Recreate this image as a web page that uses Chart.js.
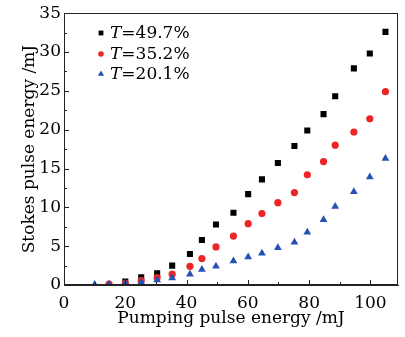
<!DOCTYPE html>
<html>
<head>
<meta charset="utf-8">
<script src="https://cdn.jsdelivr.net/npm/chart.js@4.4.1/dist/chart.umd.min.js"></script>
<style>
  html, body { margin: 0; padding: 0; background: #fff; }
  #wrap { width: 405px; height: 337px; }
</style>
</head>
<body>
<div id="wrap"><canvas id="myChart" width="405" height="337"></canvas></div>
<script>
// pumping pulse energy (mJ), shared by all three series
var pumpEnergy = [10, 14.7, 20, 25.2, 30.4, 35.3, 41.1, 45, 49.6, 55.3, 60.1, 64.6, 69.8, 75.2, 79.4, 84.7, 88.5, 94.6, 99.8, 104.9];
// stokes pulse energy (mJ) per transmittance
var stokesT497 = [null, null, 0.43, 0.99, 1.5, 2.5, 4.0, 5.8, 7.8, 9.3, 11.7, 13.6, 15.7, 17.9, 19.9, 22.0, 24.3, 27.9, 29.8, 32.6];
var stokesT352 = [null, 0.1, 0.2, 0.56, 0.95, 1.4, 2.4, 3.4, 4.9, 6.3, 7.9, 9.2, 10.6, 11.9, 14.2, 15.9, 18.0, 19.7, 21.4, 24.9];
var stokesT201 = [0.05, 0.1, 0.2, 0.35, 0.64, 0.9, 1.4, 2.0, 2.4, 3.1, 3.6, 4.1, 4.8, 5.5, 6.8, 8.4, 10.1, 12.0, 13.9, 16.3];
var seriesLabels = ["=49.7%", "=35.2%", "=20.1%"];
var xTicks = [0, 20, 40, 60, 80, 100];
var yTicks = [0, 5, 10, 15, 20, 25, 30, 35];

var FONT = "'DejaVu Serif', serif";

function toPoints(ys) {
    var pts = [];
    for (var i = 0; i < pumpEnergy.length; i++) {
        if (ys[i] !== null) pts.push({x: pumpEnergy[i], y: ys[i]});
    }
    return pts;
}

// inward ticks, frame and the legend with italic T
var decorPlugin = {
    id: 'decor',
    afterDatasetsDraw: function(chart) {
        var ctx = chart.ctx;
        var a = chart.chartArea;
        var xs = chart.scales.x, ys = chart.scales.y;
        ctx.save();
        ctx.strokeStyle = '#222';
        ctx.lineWidth = 1;
        ctx.strokeRect(Math.round(a.left) + 0.5, Math.round(a.top) + 0.5, Math.round(a.right - a.left) - 1, Math.round(a.bottom - a.top) - 1);
        ctx.beginPath();
        for (var v = 0; v <= 100; v += 10) {
            var px = Math.round(xs.getPixelForValue(v)) + 0.5;
            var len = (v % 20 === 0) ? 5 : 3;
            ctx.moveTo(px, a.bottom);
            ctx.lineTo(px, a.bottom - len);
        }
        for (var w = 0; w <= 35; w += 2.5) {
            var py = Math.round(ys.getPixelForValue(w)) + 0.5;
            var len2 = (w % 5 === 0) ? 5 : 3;
            ctx.moveTo(a.left, py);
            ctx.lineTo(a.left + len2, py);
        }
        ctx.stroke();

        // legend
        var rowY = [33, 54, 74];
        chart.data.datasets.forEach(function(ds, i) {
            ctx.fillStyle = ds.backgroundColor;
            ctx.strokeStyle = ds.backgroundColor;
            Chart.helpers.drawPoint(ctx, {pointStyle: ds.pointStyle, radius: ds.pointStyle === 'rect' ? 3.4 : (ds.pointStyle === 'triangle' ? 3.6 : 2.8), rotation: 0, borderWidth: 0}, 101, rowY[i]);
            ctx.fillStyle = '#000';
            ctx.textBaseline = 'middle';
            ctx.font = "italic 17px " + FONT;
            ctx.fillText('T', 110, rowY[i] + 1);
            var tw = ctx.measureText('T').width;
            ctx.font = "17px " + FONT;
            ctx.fillText(seriesLabels[i], 110 + tw, rowY[i] + 1);
        });
        ctx.restore();
    }
};

var ctx = document.getElementById("myChart").getContext("2d");

var myChart = new Chart(ctx, {
    type: 'scatter',
    data: {
        datasets: [
            {
            label: "T=49.7%",
            data: toPoints(stokesT497),
            pointStyle: 'rect',
            pointRadius: 4.3,
            backgroundColor: '#000000',
            borderColor: '#000000',
            borderWidth: 0,
            order: 3
            },
            {
            label: "T=35.2%",
            data: toPoints(stokesT352),
            pointStyle: 'circle',
            pointRadius: 3.6,
            backgroundColor: '#ec2626',
            borderColor: '#ec2626',
            borderWidth: 0,
            order: 2
            },
            {
            label: "T=20.1%",
            data: toPoints(stokesT201),
            pointStyle: 'triangle',
            pointRadius: 4.5,
            backgroundColor: '#2451b3',
            borderColor: '#2451b3',
            borderWidth: 0,
            order: 1
            }]
    },
    options: {
        responsive: false,
        animation: false,
        layout: { padding: { left: 0, top: 13, right: 7, bottom: 0 } },
        plugins: { legend: { display: false }, tooltip: { enabled: false } },
        scales: {
            x: {
                type: 'linear',
                min: 0,
                max: 109,
                grid: { display: false, drawTicks: false },
                border: { display: true, color: '#222', width: 1 },
                afterBuildTicks: function(scale) {
                    scale.ticks = xTicks.map(function(v) { return {value: v}; });
                },
                afterFit: function(scale) { scale.height = 52; },
                ticks: { color: '#000', padding: 8, font: { family: FONT, size: 17 }, maxRotation: 0 },
                title: {
                    display: true,
                    text: 'Pumping pulse energy /mJ',
                    color: '#000',
                    font: { family: FONT, size: 17 },
                    padding: { top: 0, bottom: 8 }
                }
            },
            y: {
                min: 0,
                max: 35,
                grid: { display: false, drawTicks: false },
                border: { display: true, color: '#222', width: 1 },
                afterBuildTicks: function(scale) {
                    scale.ticks = yTicks.map(function(v) { return {value: v}; });
                },
                afterFit: function(scale) { scale.width = 64; },
                ticks: { color: '#000', padding: 3, font: { family: FONT, size: 17 } },
                title: {
                    display: true,
                    text: 'Stokes pulse energy /mJ',
                    color: '#000',
                    font: { family: FONT, size: 17 },
                    padding: { top: 19, bottom: 0 }
                }
            }
        }
    },
    plugins: [decorPlugin]
});
</script>
</body>
</html>
